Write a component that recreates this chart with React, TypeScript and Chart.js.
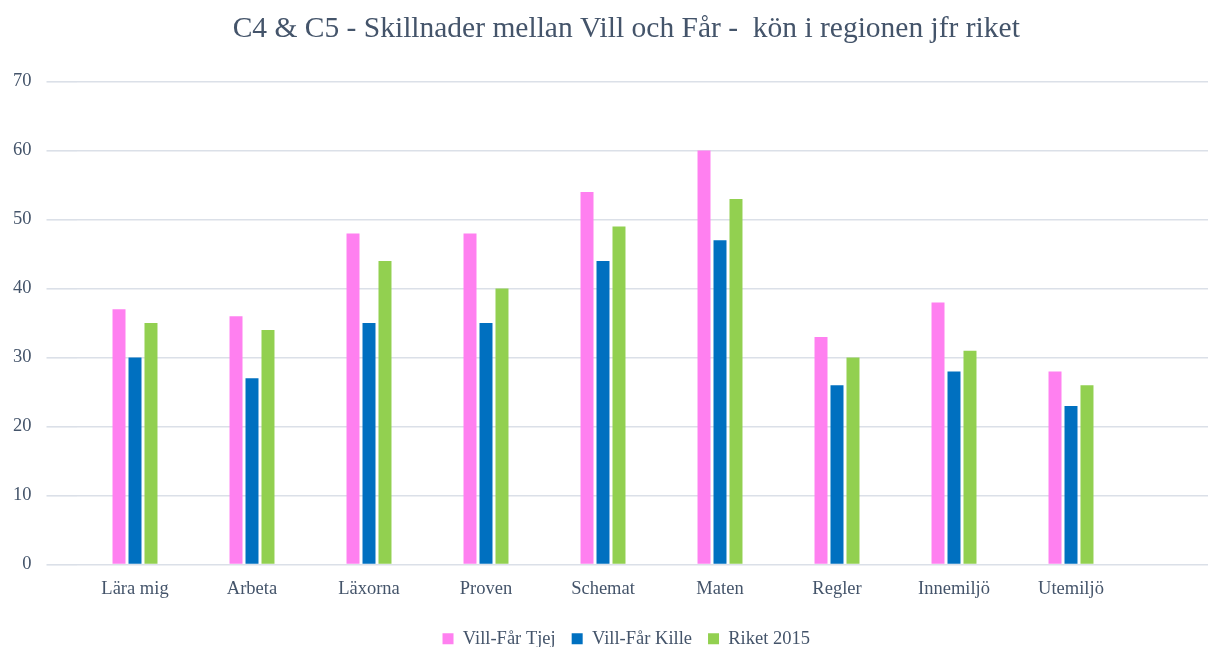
import React, { useEffect, useRef } from "react";
import { Chart, registerables } from "chart.js";

Chart.register(...registerables);

const categories = ["Lära mig", "Arbeta", "Läxorna", "Proven", "Schemat", "Maten", "Regler", "Innemiljö", "Utemiljö", ""];
const tjejValues = [37, 36, 48, 48, 54, 60, 33, 38, 28, null];
const killeValues = [30, 27, 35, 35, 44, 47, 26, 28, 23, null];
const riketValues = [35, 34, 44, 40, 49, 53, 30, 31, 26, null];
const seriesNames = ["Vill-Får Tjej", "Vill-Får Kille", "Riket 2015"];
const titleText = "C4 & C5 - Skillnader mellan Vill och Får -  kön i regionen jfr riket";

const TEXT = "#44546a";
const FONT = "'Liberation Serif', 'Times New Roman', serif";

export default function App() {
  const ref = useRef<HTMLCanvasElement | null>(null);
  useEffect(() => {
    if (!ref.current) return;
    const chart = new Chart(ref.current, {
      type: "bar",
      data: {
        labels: categories,
        datasets: [
          { label: seriesNames[0], data: tjejValues, backgroundColor: "#ff80f0" },
          { label: seriesNames[1], data: killeValues, backgroundColor: "#0070c0" },
          { label: seriesNames[2], data: riketValues, backgroundColor: "#92d050" },
        ],
      },
      options: {
        animation: false,
        responsive: true,
        maintainAspectRatio: false,
        datasets: { bar: { categoryPercentage: 0.41, barPercentage: 0.8125 } },
        layout: { padding: { left: 6, right: 5.5, top: 0, bottom: 0 } },
        plugins: {
          title: {
            display: true,
            text: titleText,
            color: TEXT,
            font: { family: FONT, size: 29.5, weight: "normal" },
            padding: { top: 12, bottom: 34.2 },
          },
          legend: {
            position: "bottom",
            labels: {
              color: TEXT,
              font: { family: FONT, size: 18.5 },
              boxWidth: 11,
              boxHeight: 11,
              padding: 16,
            },
          },
          tooltip: { enabled: false },
        },
        scales: {
          x: {
            afterFit: (scale: any) => { scale.height = 48.9; },
            grid: { display: false },
            border: { display: false },
            ticks: { color: TEXT, font: { family: FONT, size: 18.5 }, padding: 5, maxRotation: 0 },
          },
          y: {
            min: 0,
            max: 70,
            afterFit: (scale: any) => { scale.width = 70.5; },
            border: { display: false },
            grid: { color: "#dbe0e8", lineWidth: 1.6, drawTicks: true, tickLength: 30 },
            ticks: { stepSize: 10, color: TEXT, font: { family: FONT, size: 18.5 }, padding: 15 },
          },
        },
      },
    });
    return () => chart.destroy();
  }, []);
  return (
    <div style={{ position: "absolute", left: 0, top: 0, width: 1208, height: 647, overflow: "hidden", background: "#fff" }}>
      <div style={{ position: "relative", width: 1252, height: 658 }}>
        <canvas ref={ref} />
      </div>
    </div>
  );
}
